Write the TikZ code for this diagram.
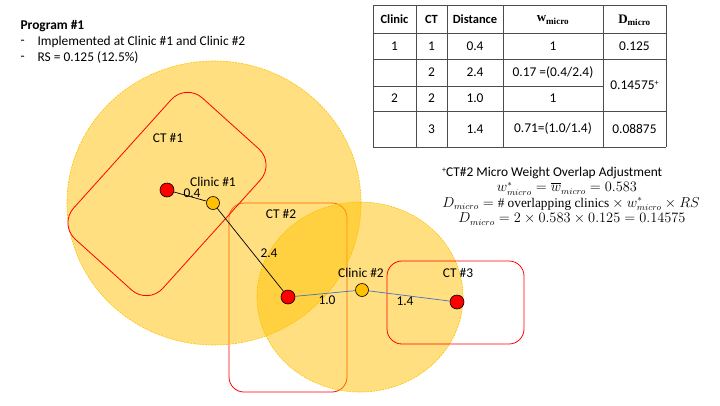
\documentclass[tikz,border=0pt]{standalone}
\usepackage{amsmath}
\usepackage{fontspec}
\setmainfont{Carlito}
\newfontfamily\tabserif{Liberation Serif}
\definecolor{ringgold}{RGB}{255,192,0}
\definecolor{linkblue}{RGB}{68,114,196}
\newcommand{\adjmark}{\raisebox{0.6ex}{\fontsize{8}{8}\selectfont +}}

\begin{document}
\begin{tikzpicture}[x=1pt,y=-1pt,
  every node/.style={font=\fontsize{13.4}{15}\selectfont},
  reach/.style={fill=ringgold, fill opacity=0.5, draw=ringgold, dash pattern=on 2pt off 1pt, line width=0.6pt},
  tract/.style={draw=red, line width=0.8pt, rounded corners=15pt},
  tractdot/.style={circle, draw=black, fill=red, minimum size=14pt, inner sep=0pt, line width=0.6pt},
  clinicdot/.style={circle, draw=black, fill=ringgold, minimum size=13pt, inner sep=0pt, line width=0.6pt},
  link/.style={line width=0.7pt},
  gridline/.style={draw=black!70, line width=0.7pt},
  wmath/.style={font=\fontsize{13.3}{15}\selectfont, inner sep=0pt}]
  \useasboundingbox (0,0) rectangle (720,405);

  % program
  \node[anchor=west, font=\fontsize{13.4}{15}\selectfont\bfseries] (prog) at (17,26) {Program \#1};
  \node[anchor=west] (dash1) at (17,42) {-};
  \node[anchor=west] (item1) at (34,42) {Implemented at Clinic \#1 and Clinic \#2};
  \node[anchor=west] (dash2) at (17,58) {-};
  \node[anchor=west] (item2) at (34,58) {RS = 0.125 (12.5\%)};

  % CT #2 lies under the catchment areas
  \draw[tract] (229,203) rectangle (347,392);

  % catchment areas
  \draw[reach] (214,203) ellipse [x radius=147pt, y radius=142pt];
  \draw[reach] (360,297) ellipse [x radius=103pt, y radius=95pt];

  % CT #1 (turned) and CT #3
  \draw[tract, rounded corners=22pt, rotate around={-42:(167,194)}] (107,99) rectangle (227,289);
  \draw[tract] (387,261) rectangle (524,344);

  % tracts and clinics
  \node[tractdot] (ct1) at (167,190) {};
  \node[clinicdot] (cl1) at (213,203) {};
  \node[tractdot] (ct2) at (288,297) {};
  \node[clinicdot] (cl2) at (362,290) {};
  \node[tractdot] (ct3) at (457,302) {};

  % distances
  \draw[link] (ct1) -- (cl1);
  \draw[link] (cl1) -- (ct2);
  \draw[link, linkblue] (ct2) -- (cl2);
  \draw[link, linkblue] (cl2) -- (ct3);

  % labels
  \node (ct1lbl) at (168,138) {CT \#1};
  \node (ct2lbl) at (281,214) {CT \#2};
  \node (ct3lbl) at (458,273) {CT \#3};
  \node[inner sep=0pt] (cl1lbl) at (213,182) {Clinic \#1};
  \node[inner sep=0pt] (cl2lbl) at (361,273) {Clinic \#2};
  \node[inner sep=0pt] (d04) at (192,193) {0.4};
  \node (d24) at (269,253) {2.4};
  \node (d10) at (327,300) {1.0};
  \node (d14) at (405,301) {1.4};

  % table grid
  \draw[gridline] (373,5) -- (666,5)
                  (373,33) -- (666,33)
                  (373,59) -- (666,59)
                  (373,86) -- (603,86)
                  (373,111) -- (666,111)
                  (373,147) -- (666,147);
  \foreach \x in {373,416,447,503,603,666}
    \draw[gridline] (\x,5) -- (\x,147);

  % table header
  \node[font=\fontsize{12.5}{15}\selectfont\bfseries] (hclinic) at (394.5,19) {Clinic};
  \node[font=\fontsize{12.5}{15}\selectfont\bfseries] (hct) at (431.5,19) {CT};
  \node[font=\fontsize{12.5}{15}\selectfont\bfseries] (hdist) at (475,19) {Distance};
  \node[font=\fontsize{13}{15}\selectfont\tabserif\bfseries] (hw) at (553,20) {w\textsubscript{micro}};
  \node[font=\fontsize{13}{15}\selectfont\tabserif\bfseries] (hd) at (634.5,20) {D\textsubscript{micro}};

  % table rows
  \node (r1clinic) at (394.5,46) {1};
  \node (r1ct) at (431.5,46) {1};
  \node (r1dist) at (475,46) {0.4};
  \node (r1w) at (553,46) {1};
  \node (r1d) at (634.5,46) {0.125};
  \node (r2ct) at (431.5,72.5) {2};
  \node (r2dist) at (475,72.5) {2.4};
  \node (r2w) at (553,72.5) {0.17 =(0.4/2.4)};
  \node (r23d) at (634.5,85) {0.14575\adjmark};
  \node (r3clinic) at (394.5,98.5) {2};
  \node (r3ct) at (431.5,98.5) {2};
  \node (r3dist) at (475,98.5) {1.0};
  \node (r3w) at (553,98.5) {1};
  \node (r4ct) at (431.5,129) {3};
  \node (r4dist) at (475,129) {1.4};
  \node (r4w) at (553,129) {0.71=(1.0/1.4)};
  \node (r4d) at (634.5,129) {0.08875};

  % overlap adjustment
  \node[anchor=west, inner sep=0pt] (adjtitle) at (442,173) {\adjmark CT\#2 Micro Weight Overlap Adjustment};
  \node[wmath] (adjw) at (567,189) {$w^{*}_{micro} = \overline{w}_{micro} = 0.583$};
  \node[wmath] (adjd) at (571,204) {$D_{micro} = \text{\tabserif\# overlapping clinics} \times w^{*}_{micro} \times RS$};
  \node[wmath] (adjval) at (572,219) {$D_{micro} = 2\times0.583\times0.125 = 0.14575$};
\end{tikzpicture}
\end{document}
